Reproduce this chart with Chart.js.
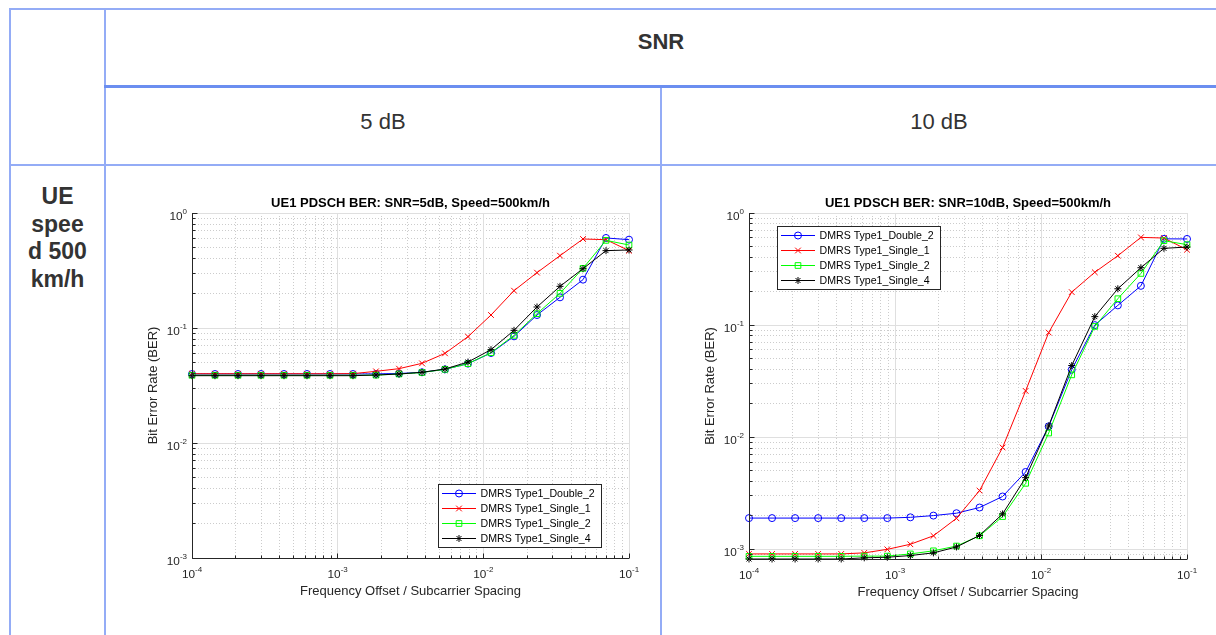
<!DOCTYPE html>
<html>
<head>
<meta charset="utf-8">
<script src="https://cdn.jsdelivr.net/npm/chart.js@4.4.1/dist/chart.umd.min.js"></script>
<style>
  html, body { margin: 0; padding: 0; background: #ffffff; }
  #page {
    position: relative; width: 1216px; height: 635px; overflow: hidden;
    font-family: "Liberation Sans", Arial, Helvetica, sans-serif; color: #333333;
  }
  .rule { position: absolute; background: #94acf6; }
  .rule.strong { background: #6b8ef0; }
  .cell-text { position: absolute; text-align: center; white-space: nowrap; }
  canvas { position: absolute; }
</style>
</head>
<body>
<div id="page">
  <!-- table grid -->
  <div class="rule" style="left:9px;top:8px;width:1207px;height:2px"></div>
  <div class="rule" style="left:9px;top:8px;width:2px;height:627px"></div>
  <div class="rule" style="left:104px;top:8px;width:2px;height:627px"></div>
  <div class="rule strong" style="left:104px;top:85px;width:1112px;height:3px"></div>
  <div class="rule" style="left:660px;top:88px;width:2px;height:547px"></div>
  <div class="rule" style="left:9px;top:164px;width:1207px;height:2px"></div>

  <!-- table headers -->
  <div class="cell-text" style="left:106px;width:1110px;top:27px;line-height:30px;font-size:22px;font-weight:bold">SNR</div>
  <div class="cell-text" style="left:106px;width:554px;top:107px;line-height:30px;font-size:22px">5 dB</div>
  <div class="cell-text" style="left:662px;width:554px;top:107px;line-height:30px;font-size:22px">10 dB</div>
  <div class="cell-text" style="left:11px;width:93px;top:183px;line-height:27.6px;font-size:23px;font-weight:bold">UE<br>spee<br>d 500<br>km/h</div>

  <canvas id="berSnr5" width="520" height="420" style="left:130px;top:190px;width:520px;height:420px"></canvas>
  <canvas id="berSnr10" width="520" height="420" style="left:690px;top:190px;width:520px;height:420px"></canvas>
</div>

<script>
// Frequency offset normalised to the subcarrier spacing (20 points, 1e-4 ... 1e-1)
const freqOffset = [1.000e-4, 1.438e-4, 2.069e-4, 2.976e-4, 4.281e-4, 6.158e-4, 8.859e-4,
  1.274e-3, 1.833e-3, 2.637e-3, 3.793e-3, 5.456e-3, 7.848e-3, 1.129e-2, 1.624e-2,
  2.336e-2, 3.360e-2, 4.833e-2, 6.952e-2, 1.000e-1];

const seriesNames = ['DMRS Type1_Double_2', 'DMRS Type1_Single_1', 'DMRS Type1_Single_2', 'DMRS Type1_Single_4'];

// BER, SNR = 5 dB
const ber5Double2 = [0.0398, 0.0398, 0.0398, 0.0398, 0.0398, 0.0398, 0.0398, 0.0398, 0.0399, 0.0402,
  0.0412, 0.0437, 0.0490, 0.0606, 0.0846, 0.1297, 0.1848, 0.2632, 0.6064, 0.5863];
const ber5Single1 = [0.0400, 0.0400, 0.0400, 0.0400, 0.0400, 0.0400, 0.0400, 0.0401, 0.0420, 0.0443,
  0.0493, 0.0602, 0.0841, 0.1297, 0.2112, 0.3029, 0.4256, 0.5941, 0.5863, 0.4706];
const ber5Single2 = [0.0388, 0.0388, 0.0388, 0.0388, 0.0388, 0.0388, 0.0388, 0.0388, 0.0389, 0.0398,
  0.0410, 0.0437, 0.0490, 0.0610, 0.0863, 0.1332, 0.2001, 0.3302, 0.5784, 0.5268];
const ber5Single4 = [0.0385, 0.0385, 0.0385, 0.0385, 0.0385, 0.0385, 0.0385, 0.0385, 0.0390, 0.0398,
  0.0412, 0.0440, 0.0506, 0.0648, 0.0954, 0.1523, 0.2303, 0.3280, 0.4706, 0.4769];

// BER, SNR = 10 dB
const ber10Double2 = [0.00190, 0.00190, 0.00190, 0.00190, 0.00190, 0.00190, 0.00190, 0.00193, 0.00200, 0.00210,
  0.00236, 0.00296, 0.00490, 0.0125, 0.0400, 0.1000, 0.1500, 0.2240, 0.5880, 0.5870];
const ber10Single1 = [0.00091, 0.00091, 0.00091, 0.00091, 0.00091, 0.00093, 0.00100, 0.00111, 0.00132, 0.00189,
  0.00334, 0.00810, 0.0259, 0.0858, 0.1970, 0.2960, 0.4160, 0.6060, 0.5980, 0.4700];
const ber10Single2 = [0.000866, 0.000866, 0.000866, 0.000866, 0.000866, 0.000870, 0.000870, 0.00091, 0.00097, 0.00107,
  0.00132, 0.00196, 0.00388, 0.0109, 0.0360, 0.0973, 0.1720, 0.2890, 0.5660, 0.5220];
const ber10Single4 = [0.00082, 0.00082, 0.00082, 0.00082, 0.00082, 0.00084, 0.00085, 0.00088, 0.00093, 0.00105,
  0.00133, 0.00207, 0.00436, 0.0126, 0.0436, 0.1190, 0.2110, 0.3250, 0.4840, 0.4970];

// decade tick labels (10^n)
const xTickExponents = [-4, -3, -2, -1];
const yTickExponents = [-3, -2, -1, 0];

const FONT = '"Liberation Sans", Arial, Helvetica, sans-serif';
const AXIS_COLOR = '#262626';

const seriesStyles = [
  { color: '#0000ff', marker: 'circle', radius: 3.5 },
  { color: '#ff0000', marker: 'crossRot', radius: 4 },
  { color: '#00ff00', marker: 'rect', radius: 4 },
  { color: '#000000', marker: 'star', radius: 3.5 },
];

// marker geometry follows Chart.js point styles so legend glyphs match the plotted ones
function drawMarker(ctx, style, x, y, r, color) {
  ctx.save();
  ctx.strokeStyle = color; ctx.lineWidth = 1; ctx.setLineDash([]);
  ctx.beginPath();
  const d = r * Math.SQRT1_2;
  if (style === 'circle') {
    ctx.arc(x, y, r, 0, Math.PI * 2);
  } else if (style === 'rect') {
    ctx.rect(x - d, y - d, 2 * d, 2 * d);
  } else {
    if (style === 'star') {
      ctx.moveTo(x, y - r); ctx.lineTo(x, y + r);
      ctx.moveTo(x - r, y); ctx.lineTo(x + r, y);
    }
    ctx.moveTo(x - d, y - d); ctx.lineTo(x + d, y + d);
    ctx.moveTo(x - d, y + d); ctx.lineTo(x + d, y - d);
  }
  ctx.stroke();
  ctx.restore();
}

function logTicks(scale) {
  const out = [];
  const e0 = Math.floor(Math.log10(scale.min) + 1e-9);
  const e1 = Math.ceil(Math.log10(scale.max) - 1e-9);
  for (let e = e0; e <= e1; e++) {
    for (let m = 1; m <= 9; m++) {
      const v = m * Math.pow(10, e);
      if (v >= scale.min * (1 - 1e-9) && v <= scale.max * (1 + 1e-9)) out.push({ v, major: m === 1 });
    }
  }
  return out;
}

const crisp = p => Math.round(p - 0.5) + 0.5;

// MATLAB-style log axes: dotted minor grid, solid decade grid, inward ticks, 10^n labels, boxed legend
const matlabAxes = {
  id: 'matlabAxes',
  beforeDatasetsDraw(chart) {
    const { ctx, chartArea: a, scales: { x, y } } = chart;
    const xt = logTicks(x), yt = logTicks(y);
    ctx.save();
    ctx.lineWidth = 1;
    // minor grid
    ctx.strokeStyle = '#cccccc';
    ctx.setLineDash([1, 2]);
    ctx.beginPath();
    xt.filter(t => !t.major).forEach(t => {
      const px = crisp(x.getPixelForValue(t.v));
      ctx.moveTo(px, a.top); ctx.lineTo(px, a.bottom);
    });
    yt.filter(t => !t.major).forEach(t => {
      const py = crisp(y.getPixelForValue(t.v));
      ctx.moveTo(a.left, py); ctx.lineTo(a.right, py);
    });
    ctx.stroke();
    // decade grid
    ctx.setLineDash([]);
    ctx.strokeStyle = '#dfdfdf';
    ctx.beginPath();
    xt.filter(t => t.major).forEach(t => {
      const px = crisp(x.getPixelForValue(t.v));
      ctx.moveTo(px, a.top); ctx.lineTo(px, a.bottom);
    });
    yt.filter(t => t.major).forEach(t => {
      const py = crisp(y.getPixelForValue(t.v));
      ctx.moveTo(a.left, py); ctx.lineTo(a.right, py);
    });
    ctx.stroke();
    ctx.restore();
  },
  afterDatasetsDraw(chart, args, opts) {
    const { ctx, chartArea: a, scales: { x, y } } = chart;
    const xt = logTicks(x), yt = logTicks(y);
    ctx.save();
    // axis lines
    ctx.strokeStyle = AXIS_COLOR;
    ctx.lineWidth = 1;
    ctx.beginPath();
    const lx = crisp(a.left), by = crisp(a.bottom);
    ctx.moveTo(lx, a.top); ctx.lineTo(lx, by); ctx.lineTo(a.right, by);
    // inward ticks
    xt.forEach(t => {
      const px = crisp(x.getPixelForValue(t.v));
      ctx.moveTo(px, by); ctx.lineTo(px, by - (t.major ? 5 : 3));
    });
    yt.forEach(t => {
      const py = crisp(y.getPixelForValue(t.v));
      ctx.moveTo(lx, py); ctx.lineTo(lx + (t.major ? 5 : 3), py);
    });
    ctx.stroke();

    // decade labels
    ctx.fillStyle = AXIS_COLOR;
    ctx.textBaseline = 'alphabetic';
    const baseFont = '11.8px ' + FONT, expFont = '8px ' + FONT;
    xTickExponents.forEach(e => {
      const v = Math.pow(10, e);
      if (v < x.min * 0.999 || v > x.max * 1.001) return;
      const px = x.getPixelForValue(v);
      const exp = String(e);
      ctx.font = baseFont; const w1 = ctx.measureText('10').width;
      ctx.font = expFont; const w2 = ctx.measureText(exp).width;
      const x0 = px - (w1 + w2) / 2;
      ctx.textAlign = 'left';
      ctx.font = baseFont; ctx.fillText('10', x0, a.bottom + 19.5);
      ctx.font = expFont; ctx.fillText(exp, x0 + w1, a.bottom + 13.5);
    });
    yTickExponents.forEach(e => {
      const v = Math.pow(10, e);
      if (v < y.min * 0.999 || v > y.max * 1.001) return;
      const py = y.getPixelForValue(v);
      const exp = String(e);
      ctx.font = expFont; const w2 = ctx.measureText(exp).width;
      const xr = a.left - 5;
      ctx.textAlign = 'right';
      ctx.fillText(exp, xr, py + 1);
      ctx.font = baseFont; ctx.fillText('10', xr - w2, py + 6.5);
    });

    // axis titles
    ctx.font = '13px ' + FONT;
    ctx.textAlign = 'center';
    ctx.fillText(opts.xLabel, (a.left + a.right) / 2, a.bottom + 36.5);
    ctx.save();
    ctx.translate(a.left - 35.5, (a.top + a.bottom) / 2);
    ctx.rotate(-Math.PI / 2);
    ctx.fillText(opts.yLabel, 0, 0);
    ctx.restore();

    // chart title
    ctx.fillStyle = '#000000';
    ctx.font = 'bold 13px ' + FONT;
    ctx.fillText(opts.title, (a.left + a.right) / 2, a.top - 6);

    // legend
    const bw = 163, bh = 63;
    const bx = opts.legendAt.corner === 'se' ? a.right - opts.legendAt.dx - bw : a.left + opts.legendAt.dx;
    const byTop = opts.legendAt.corner === 'se' ? a.bottom - opts.legendAt.dy - bh : a.top + opts.legendAt.dy;
    ctx.fillStyle = '#ffffff';
    ctx.fillRect(Math.round(bx), Math.round(byTop), bw, bh);
    ctx.strokeStyle = AXIS_COLOR;
    ctx.lineWidth = 1;
    ctx.strokeRect(Math.round(bx) + 0.5, Math.round(byTop) + 0.5, bw, bh);
    ctx.font = '10.6px ' + FONT;
    ctx.textAlign = 'left';
    ctx.textBaseline = 'middle';
    chart.data.datasets.forEach((ds, i) => {
      const s = seriesStyles[i];
      const ry = Math.round(byTop) + 9.5 + 15 * i;
      ctx.strokeStyle = s.color;
      ctx.beginPath();
      ctx.moveTo(bx + 4, ry); ctx.lineTo(bx + 38, ry);
      ctx.stroke();
      drawMarker(ctx, s.marker, bx + 21, ry, s.radius, s.color);
      ctx.fillStyle = '#000000';
      ctx.fillText(ds.label, bx + 42.5, ry + 0.5);
    });
    ctx.restore();
  }
};

function makeDatasets(valueLists) {
  return valueLists.map((vals, i) => {
    const s = seriesStyles[i];
    return {
      label: seriesNames[i],
      data: freqOffset.map((f, k) => ({ x: f, y: vals[k] })),
      borderColor: s.color,
      backgroundColor: s.color,
      borderWidth: 1,
      pointStyle: s.marker,
      pointRadius: s.radius,
      pointHoverRadius: s.radius,
      pointBorderColor: s.color,
      pointBackgroundColor: 'rgba(0,0,0,0)',
      pointBorderWidth: 1,
      tension: 0,
      clip: false,
      order: valueLists.length - i,
    };
  });
}

function makeChart(canvasId, title, valueLists, yMin, padding, legendAt) {
  return new Chart(document.getElementById(canvasId), {
    type: 'line',
    data: { datasets: makeDatasets(valueLists) },
    options: {
      responsive: false,
      animation: false,
      devicePixelRatio: 1,
      events: [],
      layout: { padding },
      scales: {
        x: { type: 'logarithmic', min: 1e-4, max: 1e-1, display: false },
        y: { type: 'logarithmic', min: yMin, max: 1, display: false },
      },
      plugins: {
        legend: { display: false },
        tooltip: { enabled: false },
        title: { display: false },
        matlabAxes: {
          title,
          xLabel: 'Frequency Offset / Subcarrier Spacing',
          yLabel: 'Bit Error Rate (BER)',
          legendAt,
        },
      },
    },
    plugins: [matlabAxes],
  });
}

makeChart('berSnr5', 'UE1 PDSCH BER: SNR=5dB, Speed=500km/h',
  [ber5Double2, ber5Single1, ber5Single2, ber5Single4], 1e-3,
  { left: 62, right: 21, top: 23, bottom: 52 }, { corner: 'se', dx: 28, dy: 11 });

makeChart('berSnr10', 'UE1 PDSCH BER: SNR=10dB, Speed=500km/h',
  [ber10Double2, ber10Single1, ber10Single2, ber10Single4], 8.2e-4,
  { left: 59, right: 23, top: 23, bottom: 51 }, { corner: 'nw', dx: 28, dy: 13 });
</script>
</body>
</html>
